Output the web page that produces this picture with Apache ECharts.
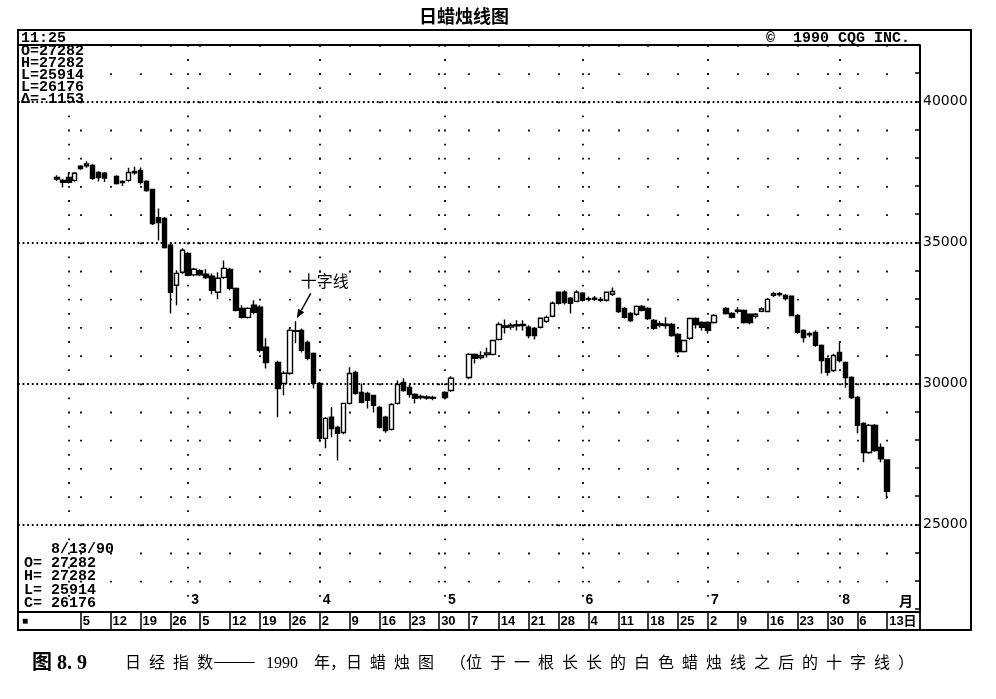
<!DOCTYPE html>
<html>
<head>
<meta charset="utf-8">
<script src="https://cdn.jsdelivr.net/npm/echarts@6/dist/echarts.min.js"></script>
<style>
html,body{margin:0;padding:0;background:#fff}
#chart{width:996px;height:699px}
</style>
</head>
<body>
<div id="chart"></div>
<script>
// 日经指数 1990 日线 [开, 收, 低, 高]，null = 休市 / 空位
var janDays = [22, 23, 24, 25, 26, 29, 30, 31];
var janBars = [null, null, null, null, null, null,
    [37250, 37300, 37180, 37380], [37200, 37130, 36950, 37260]];

var febDays = [1, 2, 5, 6, 7, 8, 9, 12, 13, 14, 15, 16, 19, 20, 21, 22, 23, 26, 27, 28];
var febBars = [
    [37300, 37130, 37090, 37480], [37200, 37450, 37150, 37500], [37700, 37620, 37580, 37740],
    [37720, 37780, 37650, 37880], [37730, 37270, 37220, 37780], [37480, 37300, 37160, 37520],
    [37450, 37280, 37140, 37500], null, [37340, 37090, 37050, 37380],
    [37120, 37160, 37000, 37200], [37200, 37480, 37150, 37650], [37470, 37520, 37400, 37680],
    [37550, 37130, 37050, 37660], [37160, 36840, 36800, 37200], [36880, 35670, 35620, 36900],
    [35880, 35700, 35070, 36200], [35850, 34820, 34780, 35900], [34900, 33230, 32480, 34950],
    [33480, 33900, 32770, 34010], [33940, 34720, 33870, 34790]
];

var marDays = [1, 2, 5, 6, 7, 8, 9, 12, 13, 14, 15, 16, 19, 20, 21, 22, 23, 26, 27, 28, 29, 30];
var marBars = [
    [34610, 33830, 33800, 34650], [33850, 34050, 33800, 34100], [34000, 33850, 33800, 34050],
    [33870, 33750, 33700, 34050], [33800, 33300, 33160, 33900], [33230, 33730, 32980, 33940],
    [33760, 34080, 33700, 34360], [34040, 33370, 33300, 34100], [33370, 32590, 32550, 33400],
    [32660, 32340, 32300, 32770], [32340, 32660, 32300, 32700], [32770, 32520, 32450, 32950],
    [32700, 31170, 31100, 32770], [31280, 30740, 30530, 31600], null,
    [30740, 29820, 28800, 30800], [30000, 30360, 29580, 30430], [30360, 31880, 30300, 31990],
    [31850, 31870, 31420, 32200], [31880, 31170, 31100, 31950], [31450, 30890, 30820, 31520],
    [31060, 30000, 29820, 31100]
];

var aprDays = [2, 3, 4, 5, 6, 9, 10, 11, 12, 13, 16, 17, 18, 19, 20, 23, 24, 25, 26, 27, 30];
var aprBars = [
    [30000, 28050, 27950, 30050], [28050, 28760, 27700, 28800], [28800, 28400, 28090, 29150],
    [28440, 28230, 27270, 28500], [28260, 29290, 28200, 29300], [29290, 30350, 29250, 30570],
    [30390, 29650, 29600, 30450], [29680, 29330, 29300, 30000], [29640, 29400, 29110, 29700],
    [29570, 29220, 28970, 29600], [29150, 28440, 28400, 29200], [28800, 28330, 28250, 28850],
    [28370, 29250, 28330, 29300], [29290, 29960, 29250, 30100], [30030, 29750, 29700, 30180],
    [29860, 29610, 29500, 29950], [29610, 29470, 29290, 29650], [29500, 29540, 29430, 29600],
    [29520, 29480, 29420, 29580], [29500, 29470, 29400, 29560], null
];

var mayDays = [1, 2, 3, 4, 7, 8, 9, 10, 11, 14, 15, 16, 17, 18, 21, 22, 23, 24, 25, 28, 29, 30, 31];
var mayBars = [
    [29680, 29500, 29440, 29720], [29750, 30180, 29700, 30250], null, null,
    [30210, 31030, 30150, 31080], [31030, 30890, 30710, 31060], [30920, 30980, 30850, 31140],
    [31020, 31080, 30920, 31260], [31030, 31520, 30990, 31550], [31560, 32090, 31520, 32170],
    [31990, 32040, 31770, 32270], [32000, 32060, 31900, 32150], [32040, 32080, 31880, 32240],
    [32050, 32090, 31880, 32240], [31990, 31700, 31600, 32060], [31950, 31700, 31560, 32000],
    [31990, 32310, 31950, 32340], [32200, 32340, 32150, 32400], [32380, 32840, 32350, 32900],
    [33230, 32840, 32800, 33260], [33230, 32870, 32800, 33300], [33020, 32840, 32480, 33060],
    [32910, 33230, 32880, 33300]
];

var junDays = [1, 4, 5, 6, 7, 8, 11, 12, 13, 14, 15, 18, 19, 20, 21, 22, 25, 26, 27, 28, 29];
var junBars = [
    [33200, 32950, 32900, 33240], [32980, 33000, 32900, 33080], [33020, 32980, 32920, 33100],
    [32950, 32980, 32880, 33060], [32950, 33230, 32900, 33260], [33160, 33260, 33100, 33400],
    [33010, 32550, 32500, 33050], [32660, 32340, 32300, 32700], [32480, 32230, 32180, 32520],
    [32450, 32730, 32400, 32760], [32730, 32590, 32550, 32780], [32660, 32300, 32250, 32700],
    [32230, 31950, 31900, 32280], [32120, 32060, 31980, 32200], [32100, 32050, 31940, 32350],
    [32090, 31700, 31650, 32150], [31740, 31130, 31060, 31780], [31130, 31520, 31100, 31550],
    [31600, 32300, 31550, 32340], [32300, 32090, 31950, 32340], [32160, 31990, 31880, 32200]
];

var julDays = [2, 3, 4, 5, 6, 9, 10, 11, 12, 13, 16, 17, 18, 19, 20, 23, 24, 25, 26, 27, 30, 31];
var julBars = [
    [32160, 31880, 31770, 32200], [32160, 32410, 32120, 32450], null,
    [32660, 32480, 32440, 32700], [32480, 32340, 32300, 32520], [32560, 32600, 32480, 32700],
    [32590, 32160, 32120, 32620], [32450, 32160, 32100, 32480], [32380, 32450, 32300, 32500],
    [32560, 32640, 32520, 32700], [32550, 32980, 32520, 33020], [33120, 33180, 33060, 33250],
    [33150, 33180, 33080, 33240], [33120, 33010, 32940, 33160], [33090, 32410, 32380, 33120],
    [32410, 31810, 31760, 32450], [31880, 31630, 31450, 31920], [31760, 31720, 31640, 31830],
    [31810, 31350, 31300, 31880], [31350, 30810, 30350, 31380], [30880, 30390, 30270, 30920],
    [30460, 30990, 30400, 31050]
];

var augDays = [1, 2, 3, 6, 7, 8, 9, 10, 13, 14, 15, 16, 17, 20];
var augBars = [
    [31100, 30810, 30740, 31450], [30740, 30210, 29850, 30780], [30210, 29500, 29450, 30250],
    [29500, 28510, 28230, 29550], [28580, 27550, 27200, 28620], [27550, 28510, 27500, 28560],
    [28510, 27620, 27580, 28560], [27730, 27329, 27200, 27870], [27282, 26176, 25914, 27282],
    null, null, null, null, null
];

// 刻度
var weekStarts = ['2/5', '2/12', '2/19', '2/26', '3/5', '3/12', '3/19', '3/26', '4/2', '4/9', '4/16',
    '4/23', '4/30', '5/7', '5/14', '5/21', '5/28', '6/4', '6/11', '6/18', '6/25', '7/2', '7/9',
    '7/16', '7/23', '7/30', '8/6', '8/13'];
var monthStarts = ['2/1', '3/1', '4/2', '5/1', '6/1', '7/2', '8/1'];
var monthLabels = ['', '3', '4', '5', '6', '7', '8'];
var priceLevels = [25000, 30000, 35000, 40000];
var lastDate = '8/13';
var dojiDate = '3/27';

var categories = [];
var bars = [];
function addMonth(m, days, rows) {
    days.forEach(function (d, i) {
        categories.push(m + '/' + d);
        bars.push(rows[i] ? rows[i] : '-');
    });
}
addMonth(1, janDays, janBars);
addMonth(2, febDays, febBars);
addMonth(3, marDays, marBars);
addMonth(4, aprDays, aprBars);
addMonth(5, mayDays, mayBars);
addMonth(6, junDays, junBars);
addMonth(7, julDays, julBars);
addMonth(8, augDays, augBars);

var isWeek = function (i, v) { return weekStarts.indexOf(v) >= 0; };
var isMonth = function (i, v) { return monthStarts.indexOf(v) >= 0; };

var li = categories.indexOf(lastDate);
var last = bars[li], prevClose = bars[li - 1][1];
var topInfo = ['O=' + last[0], 'H=' + last[3], 'L=' + last[2], 'L=' + last[1], 'Δ=' + (last[1] - prevClose)].join('\n');
var botInfo = ['O= ' + last[0], 'H= ' + last[3], 'L= ' + last[2], 'C= ' + last[1]].join('\n');

var sp = '\u2002';
var spaced = function (s) { return s.split('').join(sp); };
var capHead = spaced('日经指数');
var capTail = '1990' + sp + sp + '年，' + spaced('日蜡烛图') + sp + sp +
    '（' + spaced('位于一根长长的白色蜡烛线之后的十字线') + sp + '）';

var mono = "'Liberation Mono', 'DejaVu Sans Mono', monospace";
var cjk = "'Noto Sans CJK SC', sans-serif";
var capFont = "16px 'Liberation Serif', 'Noto Sans CJK SC'";

var myChart = echarts.init(document.getElementById('chart'));
var option = {
    animation: false,
    backgroundColor: '#fff',
    grid: { left: 18, right: 76, top: 45, bottom: 90, outerBoundsMode: 'none' },
    xAxis: [
        {
            type: 'category', data: categories, position: 'bottom', offset: 3,
            axisLine: { show: true, lineStyle: { color: '#000', width: 1.8 } },
            axisTick: { show: true, alignWithLabel: true, interval: isWeek, length: 18, lineStyle: { color: '#000', width: 1.5 } },
            axisLabel: {
                interval: isWeek, align: 'left', verticalAlign: 'top', margin: 3, padding: [0, 0, 0, 2],
                color: '#000', fontSize: 13, fontWeight: 'bold', fontFamily: "'Liberation Sans', 'Noto Sans CJK SC'",
                formatter: function (v) { return v === lastDate ? v.split('/')[1] + '日' : v.split('/')[1]; }
            },
            splitLine: { show: true, interval: isWeek, alignWithLabel: true, lineStyle: { color: '#000', width: 1.8, type: [1.8, 26.4] } }
        },
        {
            type: 'category', data: categories, position: 'bottom', offset: 3,
            axisLine: { show: false }, axisTick: { show: false },
            axisLabel: {
                inside: true, interval: isMonth, align: 'left', margin: 5, padding: [0, 0, 0, 3],
                color: '#000', fontSize: 14, fontWeight: 'bold', fontFamily: "'Liberation Sans'",
                formatter: function (v) { return monthLabels[monthStarts.indexOf(v)] || ''; }
            },
            splitLine: { show: true, interval: isMonth, alignWithLabel: true, lineStyle: { color: '#000', width: 1.8, type: [1.8, 12.3] } }
        }
    ],
    yAxis: {
        type: 'value', position: 'right', min: 22000, max: 42000, interval: 1000,
        axisLine: { show: true, lineStyle: { color: '#000', width: 1.8 } },
        splitLine: { show: false },
        axisTick: { show: true, inside: true, length: 5, lineStyle: { color: '#000', width: 1.5 } },
        axisLabel: {
            margin: 3, color: '#000', fontSize: 14, fontFamily: "'DejaVu Sans', sans-serif",
            formatter: function (v) { return priceLevels.indexOf(v) >= 0 ? String(v) : ''; }
        }
    },
    series: [{
        type: 'candlestick',
        data: bars,
        barWidth: 5,
        itemStyle: { color: '#fff', color0: '#000', borderColor: '#000', borderColor0: '#000', borderWidth: 1.4 },
        markLine: {
            silent: true, symbol: ['none', 'none'], label: { show: false },
            lineStyle: { color: '#000', width: 1.8, type: [1.8, 2.8] },
            data: priceLevels.map(function (v) { return { yAxis: v }; })
        }
    }],
    graphic: [
        { id: 'outer', type: 'rect', shape: { x: 18, y: 30, width: 953, height: 600 }, style: { fill: 'none', stroke: '#000', lineWidth: 2 } },
        { id: 'topLine', type: 'line', shape: { x1: 18, y1: 45, x2: 920, y2: 45 }, style: { stroke: '#000', lineWidth: 1.8 } },
        { id: 'rightLine', type: 'line', shape: { x1: 920, y1: 45, x2: 920, y2: 630 }, style: { stroke: '#000', lineWidth: 1.8 } },
        { id: 'title', type: 'text', x: 464, y: 16, style: { text: '日蜡烛线图', fill: '#000', font: 'bold 18px ' + cjk, align: 'center', verticalAlign: 'middle' } },
        { id: 'time', type: 'text', x: 21, y: 38, style: { text: '11:25', fill: '#000', font: 'bold 15px ' + mono, verticalAlign: 'middle' } },
        { id: 'copy', type: 'text', x: 766, y: 38, style: { text: '©  1990 CQG INC.', fill: '#000', font: 'bold 15px ' + mono, verticalAlign: 'middle' } },
        { id: 'topInfo', type: 'text', x: 21, y: 45, style: { text: topInfo, fill: '#000', font: 'bold 15px ' + mono, lineHeight: 12, verticalAlign: 'top' } },
        { id: 'lastDay', type: 'text', x: 51, y: 549, style: { text: '8/13/90', fill: '#000', font: 'bold 15px ' + mono, verticalAlign: 'middle' } },
        { id: 'botInfo', type: 'text', x: 24, y: 556, style: { text: botInfo, fill: '#000', font: 'bold 15px ' + mono, lineHeight: 13.5, verticalAlign: 'top' } },
        { id: 'box', type: 'text', x: 22, y: 621, style: { text: '■', fill: '#000', font: '10px ' + mono, verticalAlign: 'middle' } },
        { id: 'yue', type: 'text', x: 899, y: 601, style: { text: '月', fill: '#000', font: 'bold 14px ' + cjk, verticalAlign: 'middle' } },
        { id: 'capNo', type: 'text', x: 32, y: 664, style: { text: '图 8. 9', fill: '#000', font: "bold 20px 'Liberation Serif', 'Noto Sans CJK SC'", verticalAlign: 'middle' } },
        { id: 'capHead', type: 'text', x: 125, y: 664, style: { text: capHead, fill: '#000', font: capFont, verticalAlign: 'middle' } },
        { id: 'capDash', type: 'text', x: 213, y: 661, scaleX: 1.6, style: { text: '——', fill: '#000', font: "16px 'Noto Sans CJK SC'", verticalAlign: 'middle' } },
        { id: 'capTail', type: 'text', x: 266, y: 664, style: { text: capTail, fill: '#000', font: capFont, verticalAlign: 'middle' } }
    ]
};
myChart.setOption(option);

// 十字线 标注，位置取自该日最高价
var di = categories.indexOf(dojiDate);
var p = myChart.convertToPixel({ seriesIndex: 0 }, [dojiDate, bars[di][3]]);
var tip = [p[0] + 1, p[1] - 3], tail = [p[0] + 15, p[1] - 28];
var dx = tip[0] - tail[0], dy = tip[1] - tail[1], len = Math.sqrt(dx * dx + dy * dy);
var ux = dx / len, uy = dy / len;
var bx = tip[0] - ux * 9, by = tip[1] - uy * 9;
myChart.setOption({
    graphic: [
        { id: 'arrow', type: 'line', shape: { x1: tail[0], y1: tail[1], x2: bx, y2: by }, style: { stroke: '#000', lineWidth: 1.5 } },
        { id: 'arrowHead', type: 'polygon', shape: { points: [tip, [bx - uy * 3.5, by + ux * 3.5], [bx + uy * 3.5, by - ux * 3.5]] }, style: { fill: '#000' } },
        { id: 'dojiText', type: 'text', x: p[0] + 29, y: p[1] - 40, style: { text: '十字线', fill: '#000', font: '16px ' + cjk, align: 'center', verticalAlign: 'middle' } }
    ]
});
</script>
</body>
</html>
